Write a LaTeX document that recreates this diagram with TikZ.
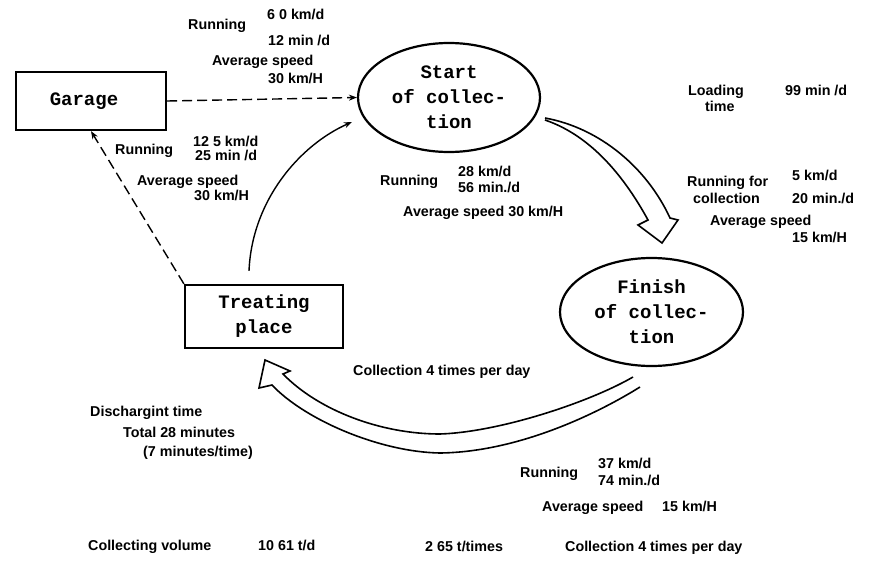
\documentclass[tikz,border=0pt]{standalone}
\usepackage{fontspec}
\usetikzlibrary{shapes.geometric,arrows.meta,calc}
\newfontfamily\labfont{Liberation Sans}
\newfontfamily\typefont{Liberation Mono}
\begin{document}
\begin{tikzpicture}[x=1pt,y=-1pt,
  lbl/.style={font=\labfont\bfseries\fontsize{14.3}{17}\selectfont,inner sep=0pt,anchor=west,text height=10pt,text depth=3pt},
  place/.style={draw,line width=2.2pt,font=\typefont\bfseries\fontsize{19}{25}\selectfont,align=center,inner sep=0pt},
  boxnode/.style={place,rectangle},
  ovalnode/.style={place,ellipse},
  dashlink/.style={line width=1.4pt,dash pattern=on 10pt off 5pt},
  tip/.style={-{Stealth[length=8pt,width=6pt]}},
  hollow/.style={line width=1.6pt,line join=miter}]
\useasboundingbox (0,0) rectangle (872,562);

% stations of the collection round
\node[boxnode,minimum width=150pt,minimum height=58pt] (garage) at (91,101) {Garage\hspace{14pt}};
\node[ovalnode,minimum width=182pt,minimum height=109pt] (start) at (449,97.5) {Start\\of collec-\\tion};
\node[ovalnode,minimum width=183pt,minimum height=108pt] (finish) at (651.5,312) {Finish\\of collec-\\tion};
\node[boxnode,minimum width=158pt,minimum height=63pt] (treat) at (264,316.5) {Treating\\place};

% runs between the stations
\draw[dashlink,tip] (garage.east) -- (start.west);
\draw[dashlink,tip] (treat.north west) -- (garage.south);
\coordinate (backin) at ($(treat.north)+(-15,-13)$);
\coordinate (backout) at (352,122);
\draw[line width=1.4pt,tip] (backin) .. controls (252,200) and (300,145) .. (backout);

% broad arrow: collecting run
\coordinate (runA) at (545,118);
\draw[hollow] (runA) .. controls (600,128) and (647,168) .. (670,218)
  -- (678,220) -- (662,243) -- (638,225) -- (648,220)
  .. controls (625,178) and (592,136) .. (545,120);

% broad arrow: haul to the treating place
\coordinate (runB) at (633,377);
\draw[hollow] (runB) .. controls (590,402) and (500,432) .. (440,434)
  .. controls (380,434) and (318,410) .. (283,374)
  -- (290,371) -- (265,360) -- (259,388) -- (272,385)
  .. controls (305,420) and (380,452) .. (440,453)
  .. controls (520,452) and (600,412) .. (640,387);

% Garage -> start of collection
\node[lbl] (t1) at (188,26) {Running};
\node[lbl] (t2) at (267,16) {6 0 km/d};
\node[lbl] (t3) at (268,42) {12 min /d};
\node[lbl] (t4) at (212,62) {Average speed};
\node[lbl] (t5) at (268,80) {30 km/H};

% treating place -> garage
\node[lbl] (t6) at (115,151) {Running};
\node[lbl] (t7) at (193,143) {12 5 km/d};
\node[lbl] (t8) at (195,157) {25 min /d};
\node[lbl] (t9) at (137,182) {Average speed};
\node[lbl] (t10) at (194,197) {30 km/H};

% treating place -> start of collection
\node[lbl] (t11) at (380,182) {Running};
\node[lbl] (t12) at (458,173) {28 km/d};
\node[lbl] (t13) at (458,189) {56 min./d};
\node[lbl] (t14) at (403,213) {Average speed 30 km/H};

% loading
\node[lbl] (t15) at (688,92) {Loading};
\node[lbl] (t16) at (705,108) {time};
\node[lbl] (t17) at (785,92) {99 min /d};
\node[lbl] (t18) at (687,183) {Running for};
\node[lbl] (t19) at (693,200) {collection};
\node[lbl] (t20) at (792,177) {5 km/d};
\node[lbl] (t21) at (792,200) {20 min./d};
\node[lbl] (t22) at (710,222) {Average speed};
\node[lbl] (t23) at (792,239) {15 km/H};

% haul and discharge
\node[lbl] (t24) at (353,372) {Collection 4 times per day};
\node[lbl] (t25) at (90,413) {Dischargint time};
\node[lbl] (t26) at (123,434) {Total 28 minutes};
\node[lbl] (t27) at (143,453) {(7 minutes/time)};
\node[lbl] (t28) at (520,474) {Running};
\node[lbl] (t29) at (598,465) {37 km/d};
\node[lbl] (t30) at (598,482) {74 min./d};
\node[lbl] (t31) at (542,508) {Average speed};
\node[lbl] (t32) at (662,508) {15 km/H};

% totals
\node[lbl] (t33) at (88,547) {Collecting volume};
\node[lbl] (t34) at (258,547) {10 61 t/d};
\node[lbl] (t35) at (425,548) {2 65 t/times};
\node[lbl] (t36) at (565,548) {Collection 4 times per day};
\end{tikzpicture}
\end{document}
